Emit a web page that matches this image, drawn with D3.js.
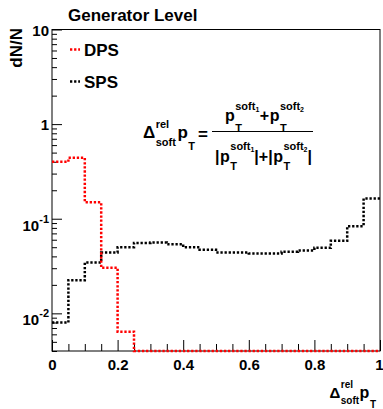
<!DOCTYPE html>
<html>
<head>
<meta charset="utf-8">
<script src="https://cdn.jsdelivr.net/npm/d3@7/dist/d3.min.js"></script>
<style>
	body { margin: 0; background: #fff; }
	svg { display: block; background: #fff; }
	text { font-family: "Liberation Sans", Arial, sans-serif; font-weight: bold; fill: #000; }
</style>
</head>
<body>
<svg id="chart" width="383" height="409"></svg>
<script>
"use strict";

// histogram bins (lower edges), width 0.05
var binLow = [0, 0.05, 0.10, 0.15, 0.20, 0.25, 0.30, 0.35, 0.40, 0.45,
		0.50, 0.55, 0.60, 0.65, 0.70, 0.75, 0.80, 0.85, 0.90, 0.95],
	binWidth = 0.05,
	dpsValues = [0.40, 0.44, 0.149, 0.0303, 0.0064, 0, 0, 0, 0, 0,
		0, 0, 0, 0, 0, 0, 0, 0, 0, 0],
	spsValues = [0.0080, 0.0224, 0.0345, 0.0440, 0.0501, 0.0555, 0.0560, 0.0539, 0.0501, 0.0470,
		0.0440, 0.0440, 0.0430, 0.0430, 0.0448, 0.0462, 0.0493, 0.0585, 0.0835, 0.164],
	xTicks = [0, 0.2, 0.4, 0.6, 0.8, 1],
	xTickLabels = ["0", "0.2", "0.4", "0.6", "0.8", "1"],
	yTicks = [0.01, 0.1, 1, 10],
	yTickBase = ["10", "10", "1", "10"],
	yTickExp = ["-2", "-1", "", ""],
	seriesNames = ["DPS", "SPS"],
	seriesColors = ["#ff0000", "#000000"];

var svg = d3.select("#chart"),
	frame = {left: 52, right: 380, top: 29.5, bottom: 351},
	yMin = 0.004,
	x = d3.scaleLinear().domain([0, 1]).range([frame.left, frame.right]),
	y = d3.scaleLog().domain([yMin, 10]).range([frame.bottom, frame.top]);

/**
 * Frame, ticks and tick labels
 * @return {Void}
 */
var drawAxes = function () {
	var minorX = x.ticks(20).filter(function (d) { return xTicks.indexOf(d) < 0; }),
		minorY = y.ticks().filter(function (d) { return yTicks.indexOf(d) < 0; }),
		xAxis, yAxis;

	svg.append("g")
		.attr("transform", "translate(0," + frame.bottom + ")")
		.call(d3.axisBottom(x).tickValues(minorX).tickSize(-7).tickFormat(""));

	xAxis = svg.append("g")
		.attr("transform", "translate(0," + frame.bottom + ")")
		.call(d3.axisBottom(x)
			.tickValues(xTicks)
			.tickSize(-11)
			.tickPadding(8)
			.tickFormat(function (d, i) { return xTickLabels[i]; }));

	// last label would stick out of the page
	xAxis.selectAll(".tick text")
		.filter(function (d) { return d === 1; })
		.attr("text-anchor", "end")
		.attr("x", 3);

	svg.append("g")
		.attr("transform", "translate(" + frame.left + ",0)")
		.call(d3.axisLeft(y).tickValues(minorY).tickSize(-5).tickFormat(""));

	yAxis = svg.append("g")
		.attr("transform", "translate(" + frame.left + ",0)")
		.call(d3.axisLeft(y)
			.tickValues(yTicks)
			.tickSize(-10)
			.tickPadding(3)
			.tickFormat(function (d, i) { return yTickBase[i]; }));

	// rebuild y labels with superscript exponents
	yAxis.selectAll(".tick text").each(function (d, i) {
		var t = d3.select(this).text(null);
		t.attr("dy", yTickExp[i] ? "11.5px" : "5.5px");
		t.append("tspan").text(yTickBase[i]);
		if (yTickExp[i]) {
			t.append("tspan").attr("dy", "-8px").style("font-size", "11px").text(yTickExp[i]);
		}
	});

	svg.selectAll(".domain").remove();
	svg.selectAll(".tick line").attr("stroke", "#000");
	svg.selectAll(".tick text")
		.attr("font-family", null)
		.attr("font-size", null)
		.style("font-size", "15px")
		.attr("fill", "#000");

	svg.append("rect")
		.attr("x", frame.left)
		.attr("y", frame.top)
		.attr("width", frame.right - frame.left)
		.attr("height", frame.bottom - frame.top)
		.attr("fill", "none")
		.attr("stroke", "#000")
		.attr("stroke-width", 1);
};

/**
 * Step outline of a histogram, empty bins sit on the bottom of the frame
 * @return {Void}
 */
var drawHist = function (values, color) {
	var pts = binLow.map(function (b, i) { return [b, values[i]]; }),
		line = d3.line()
			.curve(d3.curveStepAfter)
			.x(function (d) { return x(d[0]); })
			.y(function (d) { return y(Math.max(d[1], yMin)); });

	pts.push([binLow[binLow.length - 1] + binWidth, values[values.length - 1]]);

	svg.append("path")
		.attr("d", line(pts))
		.attr("fill", "none")
		.attr("stroke", color)
		.attr("stroke-width", 2.5)
		.attr("stroke-dasharray", "2.3,1.8");
};

/**
 * Base glyph with stacked super- and subscript, the TLatex way
 * @return {Number} x for the next glyph
 */
var glyph = function (g, x0, y0, o) {
	var t = g.append("text")
			.attr("x", x0)
			.attr("y", y0)
			.style("font-size", o.size + "px")
			.text(o.base),
		xs = x0 + t.node().getComputedTextLength() + 0.5,
		wSup = 0,
		wSub = 0,
		s;

	if (o.sup) {
		s = g.append("text")
			.attr("x", xs)
			.attr("y", y0 + o.supDy)
			.style("font-size", o.small + "px");
		s.append("tspan").text(o.sup);
		if (o.supIdx) {
			s.append("tspan").attr("dy", 2).style("font-size", "7px").text(o.supIdx);
		}
		wSup = s.node().getComputedTextLength();
	}
	if (o.sub) {
		s = g.append("text")
			.attr("x", xs)
			.attr("y", y0 + o.subDy)
			.style("font-size", o.small + "px")
			.text(o.sub);
		wSub = s.node().getComputedTextLength();
	}
	return xs + Math.max(wSup, wSub);
};

var plain = function (g, x0, y0, str, size) {
	var t = g.append("text")
		.attr("x", x0)
		.attr("y", y0)
		.style("font-size", size + "px")
		.text(str);
	return x0 + t.node().getComputedTextLength();
};

/**
 * Formula in the plot and the x axis title
 * @return {Void}
 */
var drawTexts = function () {
	var g, num, den, xc, bb;

	svg.append("text")
		.attr("x", 68)
		.attr("y", 20.5)
		.style("font-size", "17px")
		.text("Generator Level");

	svg.append("text")
		.attr("transform", "translate(22,28) rotate(-90)")
		.attr("text-anchor", "end")
		.style("font-size", "17px")
		.text("dN/N");

	// left hand side
	g = svg.append("g");
	xc = glyph(g, 143, 138, {base: "\u0394", size: 17, small: 11, sup: "rel", supDy: -10, sub: "soft", subDy: 8});
	glyph(g, xc + 1.5, 138, {base: "p", size: 17, small: 11, sub: "T", subDy: 12});
	plain(g, 198, 139.5, "=", 17);

	svg.append("line")
		.attr("x1", 212)
		.attr("x2", 313)
		.attr("y1", 131.5)
		.attr("y2", 131.5)
		.attr("stroke", "#000")
		.attr("stroke-width", 1.2);

	num = svg.append("g");
	xc = glyph(num, 0, 121, {base: "p", size: 16, small: 11, sup: "soft", supIdx: "1", supDy: -11, sub: "T", subDy: 11});
	xc = plain(num, xc + 0.5, 121, "+", 16);
	glyph(num, xc + 0.5, 121, {base: "p", size: 16, small: 11, sup: "soft", supIdx: "2", supDy: -11, sub: "T", subDy: 11});
	bb = num.node().getBBox();
	num.attr("transform", "translate(" + (264.5 - bb.width / 2) + ",0)");

	den = svg.append("g");
	xc = plain(den, 0, 162, "|", 16);
	xc = glyph(den, xc + 0.5, 162, {base: "p", size: 16, small: 11, sup: "soft", supIdx: "1", supDy: -12, sub: "T", subDy: 8});
	xc = plain(den, xc, 162, "|+|", 16);
	xc = glyph(den, xc + 0.5, 162, {base: "p", size: 16, small: 11, sup: "soft", supIdx: "2", supDy: -12, sub: "T", subDy: 8});
	plain(den, xc, 162, "|", 16);
	bb = den.node().getBBox();
	den.attr("transform", "translate(" + (263.5 - bb.width / 2) + ",0)");

	// x axis title
	g = svg.append("g");
	xc = glyph(g, 0, 398, {base: "\u0394", size: 15, small: 10, sup: "rel", supDy: -10, sub: "soft", subDy: 6});
	glyph(g, xc + 0.5, 398, {base: "p", size: 16, small: 10, sub: "T", subDy: 10});
	bb = g.node().getBBox();
	g.attr("transform", "translate(" + (376 - bb.width) + ",0)");
};

/**
 * Legend with short dotted markers
 * @return {Void}
 */
var drawLegend = function () {
	var rows = [49.5, 81.5];

	seriesNames.forEach(function (name, i) {
		svg.append("line")
			.attr("x1", 70)
			.attr("x2", 80)
			.attr("y1", rows[i])
			.attr("y2", rows[i])
			.attr("stroke", seriesColors[i])
			.attr("stroke-width", 2.5)
			.attr("stroke-dasharray", "2.3,1.8");
		svg.append("text")
			.attr("x", 84)
			.attr("y", rows[i] + 6.5)
			.style("font-size", "17px")
			.text(name);
	});
};

drawAxes();
drawHist(spsValues, seriesColors[1]);
drawHist(dpsValues, seriesColors[0]);
drawLegend();
drawTexts();
</script>
</body>
</html>
